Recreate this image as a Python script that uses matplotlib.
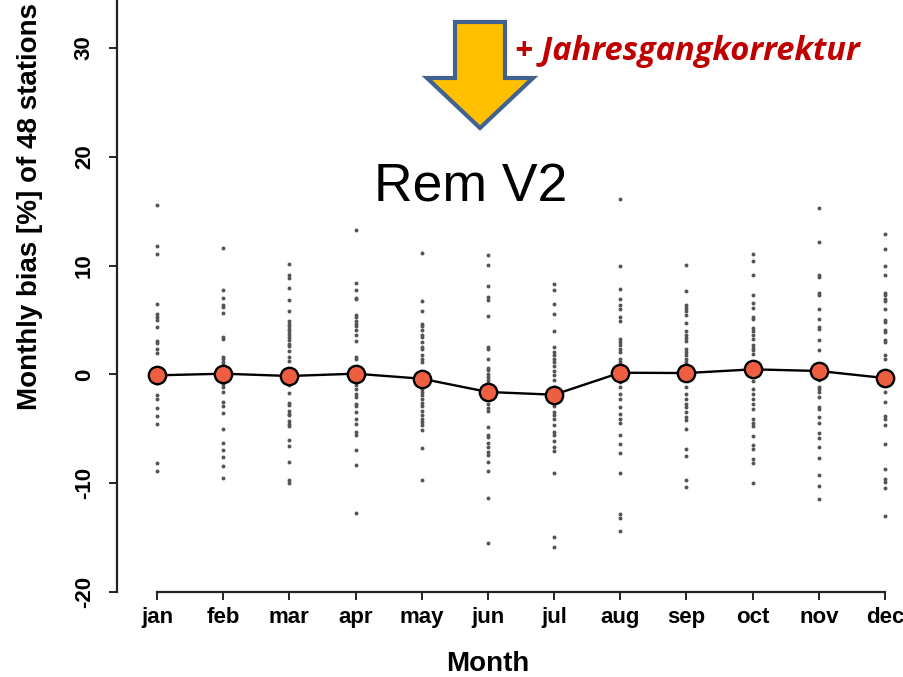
import matplotlib
matplotlib.use("Agg")
import matplotlib.pyplot as plt
from matplotlib.patches import Polygon

# ---------------- data ----------------
months = ["jan", "feb", "mar", "apr", "may", "jun", "jul", "aug", "sep", "oct", "nov", "dec"]
mean_bias = [-0.09, 0.06, -0.15, 0.06, -0.40, -1.62, -1.87, 0.15, 0.12, 0.46, 0.31, -0.34]

jan_vals = [15.53, 11.76, 11.09, 6.49, 5.51, 5.27, 5.02, 4.32, 3.06, 2.88, 2.30, 1.99, 0.5, -0.3, -0.8,
            -1.93, -2.24, -3.07, -3.80, -4.57, -8.15, -8.92]
feb_vals = [11.61, 7.72, 7.04, 6.34, 6.19, 5.60, 3.43, 3.21, 1.59, 1.38, 1.13, 0.83, 0.2, -0.4,
            -0.86, -1.17, -1.63, -2.54, -2.91, -3.56, -4.99, -6.28, -6.93, -7.63, -8.46, -9.53]
mar_vals = [10.17, 9.10, 8.88, 7.93, 6.86, 5.82, 4.87, 4.65, 4.44, 4.20, 3.95, 3.74, 3.43, 3.18, 2.82,
            2.60, 2.11, 1.59, 1.22, 0.3, -0.5, -1.01, -1.69, -2.64, -2.85, -3.37, -3.62, -3.77, -4.32,
            -4.54, -4.78, -6.07, -6.59, -8.03, -9.74, -9.96]
apr_vals = [13.29, 8.42, 7.72, 7.01, 6.89, 5.48, 5.27, 4.87, 4.65, 4.44, 4.04, 3.64, 3.06, 1.59, 1.38,
            0.4, -0.3, -1.01, -1.32, -1.78, -2.12, -2.70, -2.94, -3.46, -4.14, -4.54, -5.30, -5.61,
            -6.93, -8.31, -12.78]
may_vals = [11.15, 6.71, 5.79, 4.65, 4.41, 4.04, 3.64, 3.43, 2.97, 2.51, 2.30, 1.74, 1.38, 1.13, 0.2,
            -0.6, -1.01, -1.32, -1.63, -1.93, -2.24, -2.61, -2.91, -3.40, -3.77, -4.14, -4.38, -4.69,
            -5.09, -6.77, -9.68]
jun_vals = [10.93, 10.02, 8.12, 7.11, 6.80, 5.33, 2.51, 2.36, 1.38, 0.61, 0.37, 0.00, -0.25, -0.55,
            -0.77, -1.6, -2.30, -2.70, -3.07, -3.40, -4.84, -5.55, -5.76, -6.28, -6.68, -7.14, -7.45,
            -8.06, -8.92, -11.37, -15.50]
jul_vals = [8.33, 7.72, 6.49, 5.57, 3.95, 2.51, 2.05, 1.74, 1.38, 1.13, 0.77, 0.31, -0.09, -0.55,
            -1.17, -1.9, -2.64, -2.91, -3.46, -3.77, -4.14, -4.69, -5.30, -5.61, -6.16, -6.68, -7.08,
            -9.07, -14.95, -15.87]
aug_vals = [16.14, 9.92, 7.87, 6.89, 6.34, 6.03, 5.27, 4.87, 3.21, 2.97, 2.66, 2.36, 2.05, 1.44, 1.13,
            0.83, 0.1, -0.71, -1.17, -1.78, -2.24, -3.00, -3.62, -4.08, -4.47, -5.55, -6.37, -7.23,
            -9.07, -12.81, -13.21, -14.43]
sep_vals = [10.02, 7.63, 6.40, 6.09, 5.79, 5.48, 4.75, 3.95, 3.64, 3.34, 3.03, 2.36, 2.05, 1.74, 1.44,
            1.13, 0.1, -0.55, -1.17, -1.78, -2.24, -2.70, -3.00, -3.46, -3.92, -4.23, -4.99, -6.90,
            -7.54, -9.74, -10.36]
oct_vals = [11.09, 10.41, 9.16, 7.26, 6.58, 6.09, 5.27, 5.05, 4.26, 3.95, 3.58, 3.28, 2.72, 2.42, 2.20,
            1.90, 0.5, -0.61, -1.32, -1.78, -2.24, -2.70, -3.22, -4.08, -4.47, -4.75, -5.67, -6.47,
            -6.83, -7.75, -8.15, -9.96]
nov_vals = [15.32, 12.16, 9.10, 8.94, 7.47, 7.26, 6.03, 5.11, 4.35, 4.20, 3.12, 2.20, 0.3, -0.55,
            -1.17, -1.32, -1.63, -2.09, -3.00, -3.16, -3.92, -4.47, -5.39, -5.82, -6.68, -7.69, -9.28,
            -10.30, -11.43]
dec_vals = [12.87, 11.55, 9.92, 9.10, 7.47, 7.26, 6.89, 6.71, 5.97, 4.96, 4.81, 4.04, 3.89, 3.12, 2.97,
            1.81, 1.38, -0.3, -1.63, -2.54, -3.83, -4.08, -4.69, -6.44, -8.67, -9.59, -9.90, -10.42,
            -13.05]

station_vals = [jan_vals, feb_vals, mar_vals, apr_vals, may_vals, jun_vals,
                jul_vals, aug_vals, sep_vals, oct_vals, nov_vals, dec_vals]
y_ticks = [-20, -10, 0, 10, 20, 30]

# ---------------- figure ----------------
W, H = 904, 677
fig = plt.figure(figsize=(W / 100, H / 100), dpi=100)
fig.patch.set_facecolor("white")

ax = fig.add_axes([117 / W, 85 / H, (W - 117) / W, 592 / H])
ax.set_xlim(0.396, 12.287)
ax.set_ylim(-20, 34.4)

xs = list(range(1, len(months) + 1))
for x, vals in zip(xs, station_vals):
    ax.scatter([x] * len(vals), vals, s=8, color="#555555", linewidths=0, zorder=2)

ax.plot(xs, mean_bias, color="black", lw=1.7, zorder=3,
        marker="o", markersize=12.5, markerfacecolor="#EE5E40",
        markeredgecolor="black", markeredgewidth=1.7)

for s in ["top", "right"]:
    ax.spines[s].set_visible(False)
ax.spines["left"].set_bounds(-20, 34.4)
ax.spines["bottom"].set_bounds(1, 12)
for s in ["left", "bottom"]:
    ax.spines[s].set_linewidth(1.6)
    ax.spines[s].set_color("#222222")

ax.set_yticks(y_ticks)
ax.set_yticklabels([str(t) for t in y_ticks], rotation=90, va="center",
                   fontsize=16, fontweight="bold", family="Liberation Sans")
ax.set_xticks(xs)
ax.set_xticklabels(months, fontsize=16, fontweight="bold", family="Liberation Sans")
ax.tick_params(axis="y", length=6, width=1.4, pad=10, colors="#222222", labelcolor="black")
ax.tick_params(axis="x", length=6, width=1.4, pad=5, colors="#222222", labelcolor="black")

fig.text(30 / W, 1 - 410 / H, "Monthly bias [%] of 48 stations", rotation=90,
         ha="center", va="bottom", fontsize=20, fontweight="bold", family="Liberation Sans")
fig.text(488 / W, 1 - 664 / H, "Month", ha="center", va="center",
         fontsize=20, fontweight="bold", family="Liberation Sans")

fig.text(471 / W, 1 - 188 / H, "Rem V2", ha="center", va="center",
         fontsize=38.5, family="Liberation Sans")
fig.text(515 / W, 1 - 52 / H, "+ Jahresgangkorrektur", ha="left", va="center",
         fontsize=23.5, fontweight="bold", style="italic", family="Open Sans", color="#C00000")

arrow_px = [(455, 22), (505, 22), (505, 78), (533, 78), (480, 128), (427, 78), (455, 78)]
arrow = Polygon([(x / W, 1 - y / H) for x, y in arrow_px], closed=True,
                transform=fig.transFigure, facecolor="#FFC000", edgecolor="#41628F",
                linewidth=3, joinstyle="miter")
fig.patches.append(arrow)

fig.savefig("out.png", dpi=100)
